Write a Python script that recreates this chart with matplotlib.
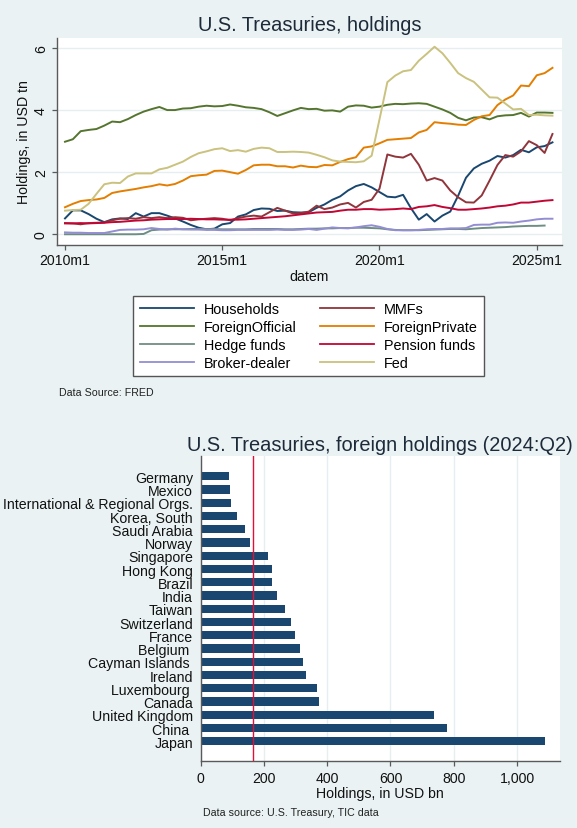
import matplotlib
matplotlib.use('Agg')
import matplotlib.pyplot as plt
import pandas as pd
from matplotlib.lines import Line2D
from matplotlib.ticker import FuncFormatter

plt.rcParams['font.family'] = ['Liberation Sans', 'DejaVu Sans']

# ---------------- data: top chart (USD tn, quarterly from 2010Q1) ----------------
start_quarter = '2010Q1'
households = [0.51, 0.77, 0.77, 0.65, 0.50, 0.39, 0.48, 0.51, 0.49, 0.68, 0.57, 0.68, 0.68, 0.60, 0.51,
              0.41, 0.30, 0.21, 0.16, 0.18, 0.32, 0.36, 0.57, 0.64, 0.78, 0.83, 0.82, 0.75, 0.76, 0.71,
              0.70, 0.71, 0.85, 0.96, 1.11, 1.22, 1.41, 1.55, 1.62, 1.51, 1.36, 1.21, 1.19, 1.27, 0.84,
              0.47, 0.65, 0.41, 0.60, 0.73, 1.24, 1.82, 2.12, 2.27, 2.37, 2.52, 2.47, 2.55, 2.72, 2.64,
              2.80, 2.84, 2.96]
mmfs = [0.36, 0.35, 0.32, 0.36, 0.37, 0.38, 0.45, 0.50, 0.52, 0.50, 0.55, 0.52, 0.55, 0.52, 0.55,
        0.53, 0.45, 0.48, 0.50, 0.52, 0.50, 0.45, 0.52, 0.57, 0.60, 0.57, 0.71, 0.85, 0.76, 0.67,
        0.68, 0.73, 0.92, 0.81, 0.86, 0.96, 1.01, 0.86, 1.04, 1.11, 1.47, 2.57, 2.50, 2.47, 2.59,
        2.24, 1.73, 1.81, 1.73, 1.41, 1.19, 1.03, 1.02, 1.25, 1.73, 2.23, 2.55, 2.50, 2.67, 3.00,
        2.87, 2.62, 3.23]
foreign_official = [2.98, 3.06, 3.32, 3.36, 3.39, 3.50, 3.63, 3.61, 3.71, 3.84, 3.95, 4.03, 4.10, 4.00, 4.00,
                    4.05, 4.06, 4.11, 4.14, 4.12, 4.13, 4.18, 4.14, 4.09, 4.07, 4.03, 3.93, 3.81, 3.90, 3.99,
                    4.07, 4.03, 4.04, 3.98, 3.99, 3.95, 4.11, 4.15, 4.14, 4.08, 4.11, 4.17, 4.20, 4.19, 4.21,
                    4.22, 4.20, 4.11, 4.02, 3.91, 3.75, 3.67, 3.76, 3.77, 3.70, 3.80, 3.83, 3.84, 3.91, 3.79,
                    3.92, 3.92, 3.91]
foreign_private = [0.87, 0.98, 1.07, 1.10, 1.12, 1.17, 1.33, 1.38, 1.42, 1.46, 1.51, 1.55, 1.61, 1.57, 1.62,
                   1.73, 1.87, 1.90, 1.92, 2.04, 2.05, 2.00, 1.95, 2.07, 2.22, 2.24, 2.24, 2.19, 2.19, 2.15,
                   2.21, 2.17, 2.16, 2.23, 2.22, 2.33, 2.42, 2.48, 2.79, 2.83, 2.93, 3.04, 3.06, 3.08, 3.10,
                   3.28, 3.36, 3.61, 3.58, 3.56, 3.53, 3.52, 3.68, 3.80, 3.84, 4.16, 4.34, 4.47, 4.79, 4.77,
                   5.12, 5.19, 5.36]
hedge_funds = [0.00, 0.00, 0.00, 0.00, 0.00, 0.00, 0.00, 0.00, 0.00, 0.00, 0.01, 0.13, 0.15, 0.16, 0.16,
               0.16, 0.17, 0.17, 0.17, 0.17, 0.16, 0.16, 0.16, 0.16, 0.17, 0.17, 0.17, 0.17, 0.16, 0.16,
               0.17, 0.18, 0.18, 0.19, 0.19, 0.20, 0.20, 0.21, 0.21, 0.20, 0.19, 0.16, 0.14, 0.13, 0.13,
               0.13, 0.14, 0.15, 0.16, 0.17, 0.17, 0.16, 0.18, 0.20, 0.21, 0.22, 0.23, 0.25, 0.26, 0.27,
               0.27, 0.28]
pension_funds = [0.35, 0.35, 0.36, 0.35, 0.36, 0.37, 0.39, 0.40, 0.42, 0.44, 0.45, 0.47, 0.48, 0.49, 0.49,
                 0.49, 0.50, 0.49, 0.48, 0.48, 0.47, 0.47, 0.47, 0.48, 0.50, 0.52, 0.54, 0.56, 0.58, 0.61,
                 0.64, 0.67, 0.70, 0.71, 0.72, 0.76, 0.79, 0.79, 0.81, 0.81, 0.79, 0.80, 0.81, 0.83, 0.81,
                 0.88, 0.90, 0.94, 0.88, 0.84, 0.79, 0.79, 0.81, 0.83, 0.86, 0.90, 0.92, 0.96, 1.02, 1.02,
                 1.05, 1.08, 1.10]
broker_dealer = [0.06, 0.05, 0.05, 0.04, 0.04, 0.04, 0.09, 0.14, 0.15, 0.15, 0.16, 0.20, 0.17, 0.15, 0.18,
                 0.16, 0.15, 0.15, 0.14, 0.14, 0.13, 0.13, 0.14, 0.14, 0.14, 0.14, 0.14, 0.15, 0.14, 0.14,
                 0.15, 0.17, 0.14, 0.18, 0.22, 0.20, 0.19, 0.22, 0.26, 0.29, 0.24, 0.17, 0.13, 0.13, 0.13,
                 0.14, 0.16, 0.17, 0.17, 0.19, 0.19, 0.20, 0.30, 0.31, 0.31, 0.37, 0.38, 0.37, 0.41, 0.44,
                 0.48, 0.50, 0.50]
fed = [0.76, 0.78, 0.79, 0.98, 1.30, 1.61, 1.66, 1.65, 1.86, 1.96, 1.96, 1.96, 2.09, 2.14, 2.24,
       2.34, 2.49, 2.61, 2.67, 2.74, 2.77, 2.68, 2.71, 2.66, 2.75, 2.79, 2.77, 2.65, 2.65, 2.66,
       2.65, 2.63, 2.56, 2.48, 2.38, 2.34, 2.33, 2.32, 2.35, 2.53, 3.70, 4.90, 5.11, 5.25, 5.29,
       5.59, 5.81, 6.04, 5.83, 5.52, 5.19, 5.03, 4.91, 4.66, 4.41, 4.40, 4.21, 4.02, 4.04, 3.84,
       3.85, 3.83, 3.82]

series_names = ['Households', 'MMFs', 'ForeignOfficial', 'ForeignPrivate',
                'Hedge funds', 'Pension funds', 'Broker-dealer', 'Fed']
series_values = [households, mmfs, foreign_official, foreign_private,
                 hedge_funds, pension_funds, broker_dealer, fed]
series_colors = ['#1a476f', '#90353b', '#55752f', '#e37e00',
                 '#6e8e84', '#c10534', '#938dd2', '#cac27e']

x_tick_years = [2010, 2015, 2020, 2025]
x_tick_labels = ['2010m1', '2015m1', '2020m1', '2025m1']
y_ticks_top = [0, 2, 4, 6]

# ---------------- data: bottom chart (USD bn, 2024:Q2) ----------------
countries = ['Germany', 'Mexico', 'International & Regional Orgs.', 'Korea, South', 'Saudi Arabia',
             'Norway', 'Singapore', 'Hong Kong', 'Brazil', 'India', 'Taiwan', 'Switzerland',
             'France', 'Belgium ', 'Cayman Islands ', 'Ireland', 'Luxembourg ', 'Canada',
             'United Kingdom', 'China ', 'Japan']
holdings_bn = [88, 94, 95, 115, 141, 155, 213, 226, 227, 241, 267, 284,
               299, 314, 325, 333, 368, 373, 739, 780, 1090]
reference_line_bn = 165
x_ticks_bottom = [0, 200, 400, 600, 800, 1000]

# ---------------- styling ----------------
BG = '#eaf2f3'
GRID = '#e6eef0'
AXC = '#5a5a5a'
TXT = '#111111'
TITLE = '#1c2a3a'
FS = 10.2

fig = plt.figure(figsize=(5.77, 8.29), dpi=100, facecolor=BG)

# ---------------- top chart ----------------
ax1 = fig.add_axes([0.0988, 0.7033, 0.8752, 0.2493])
ax1.set_facecolor('white')
periods = pd.period_range(start_quarter, periods=len(fed), freq='Q')
xdates = [p.year + (p.quarter - 1) / 4 for p in periods]
handles = {}
for name, vals, col in zip(series_names, series_values, series_colors):
    ax1.plot(xdates[:len(vals)], vals, color=col, lw=1.4, solid_joinstyle='round')
    handles[name] = Line2D([], [], color=col, lw=1.3)

ax1.set_xlim(2009.746, 2025.803)
ax1.set_ylim(-0.345, 6.312)
ax1.set_xticks(x_tick_years)
ax1.set_xticklabels(x_tick_labels)
ax1.set_yticks(y_ticks_top)
ax1.set_yticklabels([str(v) for v in y_ticks_top], rotation=90, va='center')
ax1.grid(axis='y', color=GRID, lw=1.0)
ax1.set_axisbelow(True)
for s in ['top', 'right']:
    ax1.spines[s].set_visible(False)
for s in ['left', 'bottom']:
    ax1.spines[s].set_color(AXC)
    ax1.spines[s].set_linewidth(1.0)
ax1.tick_params(axis='x', direction='out', length=3.6, width=0.9, color=AXC,
                labelsize=FS, labelcolor=TXT, pad=2.4)
ax1.tick_params(axis='y', direction='out', length=3.6, width=0.9, color=AXC,
                labelsize=FS, labelcolor=TXT, pad=3)

fig.text(0.5364, 0.9698, 'U.S. Treasuries, holdings', ha='center', va='center',
         fontsize=14.4, color=TITLE)
fig.text(0.0416, 0.8281, 'Holdings, in USD tn', ha='center', va='center',
         rotation=90, fontsize=FS, color=TXT)
fig.text(0.5364, 0.6659, 'datem', ha='center', va='center', fontsize=FS, color=TXT)

legend_order = ['Households', 'ForeignOfficial', 'Hedge funds', 'Broker-dealer',
                'MMFs', 'ForeignPrivate', 'Pension funds', 'Fed']
leg = fig.legend([handles[n] for n in legend_order], legend_order, ncol=2,
                 loc='center', bbox_to_anchor=(0.5347, 0.5935),
                 fontsize=10.4, handlelength=3.75, handletextpad=0.67,
                 columnspacing=1.62, labelspacing=0.27, borderpad=0.43,
                 fancybox=False, framealpha=1.0, edgecolor='#555555', facecolor='white')
leg.get_frame().set_linewidth(1.0)

fig.text(0.1019, 0.5256, 'Data Source: FRED', ha='left', va='center', fontsize=7.7, color='#222222')

# ---------------- bottom chart ----------------
ax2 = fig.add_axes([0.3478, 0.0812, 0.6221, 0.3679])
ax2.set_facecolor('white')
n = len(countries)
ypos = [n - 1 - i for i in range(n)]
ax2.barh(ypos, holdings_bn, height=0.63, color='#1a476f', zorder=2)
ax2.axvline(reference_line_bn, color='#e0103a', lw=1.0, zorder=3)
ax2.set_xlim(0, 1134.8)
ax2.set_ylim(-1.464, n - 1 + 1.555)
ax2.set_yticks(ypos)
ax2.set_yticklabels(countries)
ax2.set_xticks(x_ticks_bottom)
ax2.xaxis.set_major_formatter(FuncFormatter(lambda v, p: f'{int(v):,}'))
ax2.grid(axis='x', color=GRID, lw=1.0, zorder=0)
ax2.set_axisbelow(True)
for s in ['top', 'right']:
    ax2.spines[s].set_visible(False)
for s in ['left', 'bottom']:
    ax2.spines[s].set_color(AXC)
    ax2.spines[s].set_linewidth(1.0)
ax2.tick_params(axis='x', direction='out', length=3.6, width=0.9, color=AXC,
                labelsize=FS, labelcolor=TXT, pad=4.1)
ax2.tick_params(axis='y', length=0, labelsize=FS, labelcolor=TXT, pad=5.5)

fig.text(0.6586, 0.4632, 'U.S. Treasuries, foreign holdings (2024:Q2)', ha='center', va='center',
         fontsize=14.4, color=TITLE)
fig.text(0.6586, 0.0422, 'Holdings, in USD bn', ha='center', va='center', fontsize=FS, color=TXT)
fig.text(0.3523, 0.0197, 'Data source: U.S. Treasury, TIC data', ha='left', va='center',
         fontsize=7.7, color='#222222')

fig.savefig('out.png', dpi=100, facecolor=BG)
